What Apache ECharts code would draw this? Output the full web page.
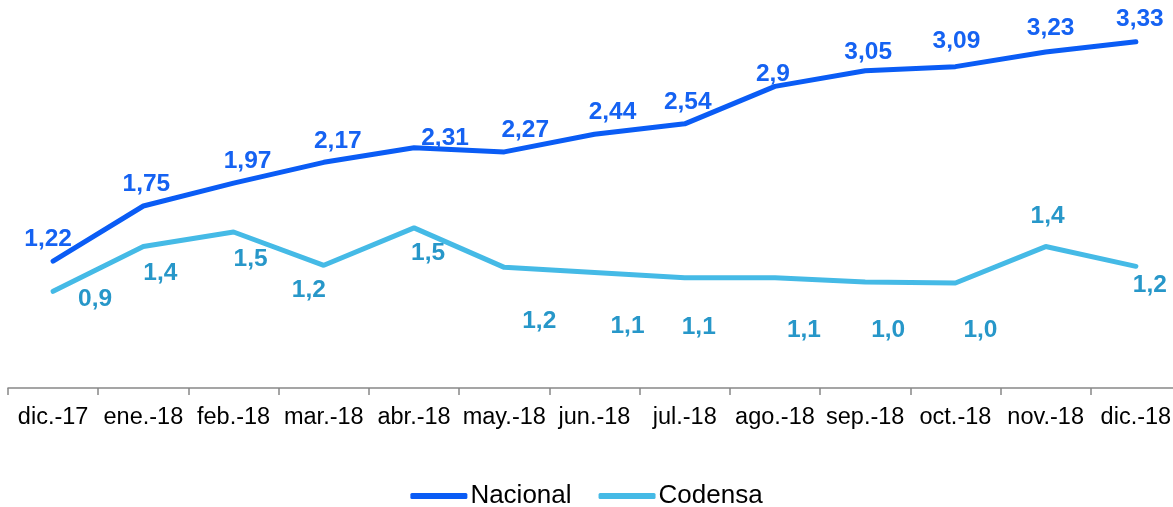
<!DOCTYPE html>
<html>
<head>
<meta charset="utf-8">
<script src="https://cdn.jsdelivr.net/npm/echarts@6/dist/echarts.min.js"></script>
<style>
  html, body { margin: 0; padding: 0; background: #fff; }
</style>
</head>
<body>
<div id="main" style="width: 1173px; height: 507px"></div>
<script>
var months = ['dic.-17', 'ene.-18', 'feb.-18', 'mar.-18', 'abr.-18', 'may.-18', 'jun.-18',
  'jul.-18', 'ago.-18', 'sep.-18', 'oct.-18', 'nov.-18', 'dic.-18']
var nacional = [1.22, 1.75, 1.97, 2.17, 2.31, 2.27, 2.44, 2.54, 2.9, 3.05, 3.09, 3.23, 3.33]
var codensa = [0.93, 1.36, 1.5, 1.18, 1.54, 1.16, 1.11, 1.06, 1.06, 1.02, 1.01, 1.36, 1.17]

// label nudges, [dx, dy] from the point
var nacOffsets = [[-5, 0], [3, 0], [14, 0], [14, 0], [31, 12], [21, 0], [18, 0], [3, 0],
  [-2, 9], [3, 3], [1, -4], [5, -2], [4, -1]]
var codOffsets = [[42, 8], [17, 27], [17, 27], [-15, 25], [14, 25], [35, 54], [33, 54],
  [14, 49], [29, 52], [23, 48], [25, 47], [2, -30], [14, 19]]

function fmt(v, d) {
  return v.toFixed(d).replace('.', ',')
}

var chart = echarts.init(document.getElementById('main'))
chart.setOption({
  animation: false,
  textStyle: { fontFamily: 'Liberation Sans, Arial, sans-serif' },
  legend: {
    bottom: -7,
    left: 'center',
    itemWidth: 57,
    itemHeight: 6,
    itemGap: 27,
    icon: 'roundRect',
    textStyle: { fontSize: 26, color: '#000', padding: [0, 0, 0, -2] },
    data: ['Nacional', 'Codensa']
  },
  grid: { left: 8, top: 24, width: 1173, height: 364, outerBoundsMode: 'none', containLabel: false },
  xAxis: {
    type: 'category',
    data: months,
    boundaryGap: true,
    axisLine: { lineStyle: { color: '#888', width: 1.5 } },
    axisTick: { show: true, length: 7, lineStyle: { color: '#888', width: 1.5 } },
    axisLabel: { interval: 0, fontSize: 23.5, color: '#000', margin: 18 }
  },
  yAxis: {
    type: 'value',
    min: 0,
    max: 3.5,
    show: false,
    splitLine: { show: false }
  },
  series: [
    {
      name: 'Nacional',
      type: 'line',
      data: nacional.map(function (v, i) {
        return { value: v, label: { offset: nacOffsets[i] } }
      }),
      symbol: 'circle',
      symbolSize: 0,
      lineStyle: { width: 5, color: '#0A5CF5', cap: 'round' },
      itemStyle: { color: '#0A5CF5' },
      label: {
        show: true,
        position: 'top',
        distance: 9,
        fontSize: 24.5,
        fontWeight: 'bold',
        color: '#1562F2',
        formatter: function (p) {
          return fmt(p.value, p.value === 2.9 ? 1 : 2)
        }
      }
    },
    {
      name: 'Codensa',
      type: 'line',
      data: codensa.map(function (v, i) {
        return { value: v, label: { offset: codOffsets[i] } }
      }),
      symbol: 'circle',
      symbolSize: 0,
      lineStyle: { width: 5, color: '#45BAE6', cap: 'round' },
      itemStyle: { color: '#45BAE6' },
      label: {
        show: true,
        position: 'inside',
        fontSize: 24.5,
        fontWeight: 'bold',
        color: '#2797C9',
        formatter: function (p) {
          return fmt(p.value, 1)
        }
      }
    }
  ]
})
</script>
</body>
</html>
